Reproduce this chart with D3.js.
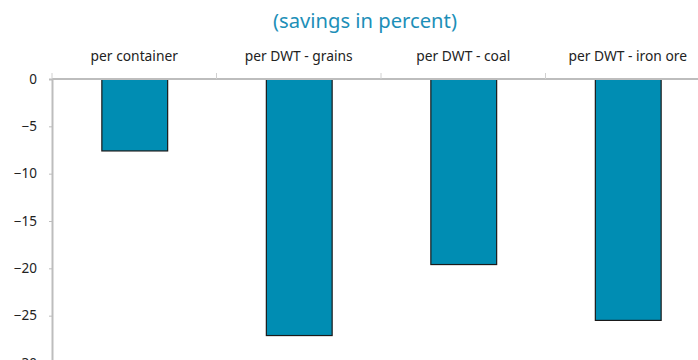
<!DOCTYPE html>
<html><head><meta charset="utf-8">
<script src="https://cdn.jsdelivr.net/npm/d3@7"></script>
<style>body{margin:0;background:#fff}svg{display:block}</style>
</head><body>
<svg id="c" width="698" height="360"></svg>
<script>
const categories = ["per container", "per DWT - grains", "per DWT - coal", "per DWT - iron ore"];
const values = [-7.6, -27.1, -19.6, -25.5];
const yTicks = [0, -5, -10, -15, -20, -25, -30];
const title = "(savings in percent)";

const svg = d3.select("#c");
const font = "'Noto Sans', 'Open Sans', sans-serif";
const x = d3.scaleBand().domain(categories).range([52, 710]).paddingInner(0.6).paddingOuter(0.3);
const xb = d3.scaleBand().domain(categories).range([52, 710]);
const y = d3.scaleLinear().domain([-30, 0]).range([363, 79]);

svg.append("text").attr("x", 365).attr("y", 28).attr("text-anchor", "middle")
  .attr("font-family", font).attr("font-size", 20.2).attr("fill", "#1d8fb8").text(title);

// bars
svg.selectAll("rect.bar").data(values).enter().append("rect")
  .attr("x", (d, i) => x(categories[i]) + 0.5)
  .attr("y", d => y(0))
  .attr("width", x.bandwidth())
  .attr("height", d => y(d) - y(0))
  .attr("fill", "#008db3").attr("stroke", "#1a1a1a").attr("stroke-width", 1.2);

// y axis
const yAxis = d3.axisLeft(y).tickValues(yTicks).tickSize(3).tickPadding(12).tickFormat(d3.format("d"));
const gy = svg.append("g").attr("transform", "translate(52,0)").call(yAxis);
gy.select(".domain").attr("stroke", "#bdbdbd").attr("stroke-width", 2);
gy.selectAll(".tick line").attr("stroke", "#bdbdbd");
gy.selectAll(".tick text").attr("font-family", font).attr("font-size", 13.5).attr("fill", "#222");

// x axis at zero, labels on top
const gx = svg.append("g").attr("transform", `translate(0,${y(0)})`);
gx.append("line").attr("x1", 52).attr("x2", 710).attr("stroke", "#bdbdbd").attr("stroke-width", 2);
gx.selectAll("line.t").data(categories).enter().append("line")
  .attr("x1", d => xb(d)).attr("x2", d => xb(d)).attr("y1", 0).attr("y2", -6)
  .attr("stroke", "#d0d0d0").attr("stroke-width", 1);
gx.selectAll("text.c").data(categories).enter().append("text")
  .attr("x", d => xb(d) + xb.bandwidth() / 2).attr("y", -18.5)
  .attr("text-anchor", "middle").attr("font-family", font).attr("font-size", 13.8).attr("fill", "#222")
  .text(d => d);
</script>
</body></html>
